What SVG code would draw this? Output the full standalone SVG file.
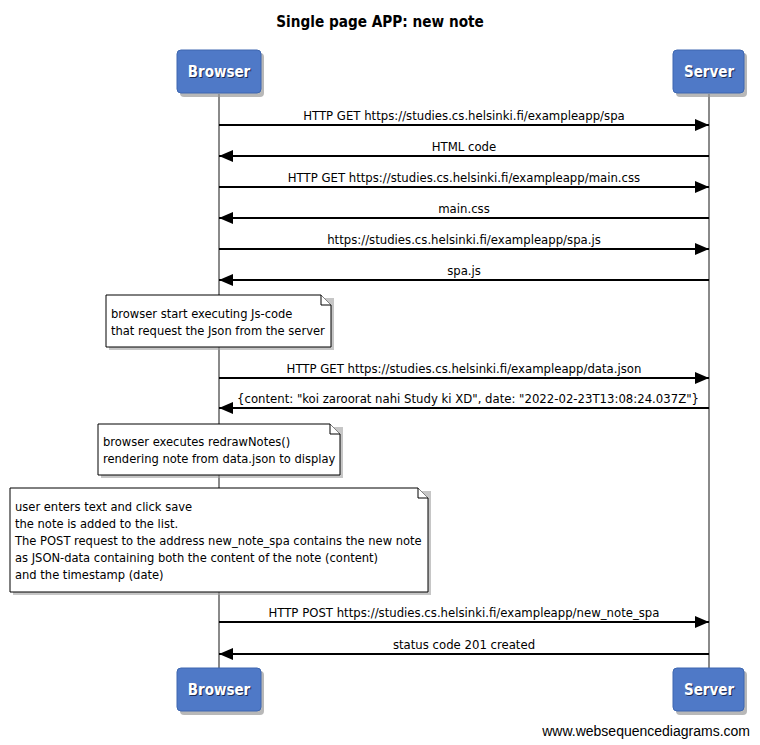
<svg xmlns="http://www.w3.org/2000/svg" width="760" height="745" viewBox="0 0 760 745">
<style>
.lbl{font-family:"DejaVu Sans Condensed","DejaVu Sans",sans-serif;font-stretch:condensed;font-size:13px;fill:#000;text-anchor:middle}
.nt{font-family:"DejaVu Sans Condensed","DejaVu Sans",sans-serif;font-stretch:condensed;font-size:12.8px;fill:#000}
.actor{fill:#4F79C7;stroke:#3E67B0;stroke-width:1}
.ashadow{fill:#9a9a9a;opacity:0.7}
.atext{font-family:"DejaVu Sans Condensed","DejaVu Sans",sans-serif;font-stretch:condensed;font-weight:bold;font-size:15px;fill:#fff;text-anchor:middle}
.atsh{font-family:"DejaVu Sans Condensed","DejaVu Sans",sans-serif;font-stretch:condensed;font-weight:bold;font-size:15px;fill:#1e2d55;text-anchor:middle}
.life{stroke:#8a8a8a;stroke-width:2}
.msg{stroke:#000;stroke-width:2;fill:none}
.note{fill:#fff;stroke:#000;stroke-width:1}
.nshadow{fill:#a0a0a0;opacity:0.6}
</style>
<defs>
<marker id="ah" markerWidth="14" markerHeight="12" refX="14" refY="6" orient="auto" markerUnits="userSpaceOnUse">
<path d="M0,0 L14,6 L0,12 Z" fill="#000"/>
</marker>
</defs>
<rect width="760" height="745" fill="#fff"/>
<text x="380" y="27" font-family="'DejaVu Sans Condensed','DejaVu Sans',sans-serif" font-stretch="condensed" font-weight="bold" font-size="15.2" text-anchor="middle">Single page APP: new note</text>

<g id="lifelines">
<line class="life" x1="219" y1="94" x2="219" y2="668"/>
<line class="life" x1="709" y1="94" x2="709" y2="668"/>
</g>

<g id="browser-top">
<rect class="ashadow" x="180" y="53" width="84" height="44" rx="4"/>
<rect class="actor" x="177" y="50" width="84" height="43" rx="4"/>
<text class="atsh" x="220" y="78">Browser</text>
<text class="atext" x="219" y="77">Browser</text>
</g>
<g id="server-top">
<rect class="ashadow" x="676" y="53" width="71" height="44" rx="4"/>
<rect class="actor" x="673" y="50" width="71" height="43" rx="4"/>
<text class="atsh" x="710" y="78">Server</text>
<text class="atext" x="709" y="77">Server</text>
</g>
<g id="browser-bottom">
<rect class="ashadow" x="180" y="671" width="84" height="44" rx="4"/>
<rect class="actor" x="177" y="668" width="84" height="43" rx="4"/>
<text class="atsh" x="220" y="696">Browser</text>
<text class="atext" x="219" y="695">Browser</text>
</g>
<g id="server-bottom">
<rect class="ashadow" x="676" y="671" width="71" height="44" rx="4"/>
<rect class="actor" x="673" y="668" width="71" height="43" rx="4"/>
<text class="atsh" x="710" y="696">Server</text>
<text class="atext" x="709" y="695">Server</text>
</g>

<g id="connectors">
<line class="msg" x1="219" y1="125" x2="709" y2="125" marker-end="url(#ah)"/>
<text class="lbl" x="464" y="120">HTTP GET https://studies.cs.helsinki.fi/exampleapp/spa</text>
<line class="msg" x1="709" y1="156" x2="219" y2="156" marker-end="url(#ah)"/>
<text class="lbl" x="464" y="151">HTML code</text>
<line class="msg" x1="219" y1="187" x2="709" y2="187" marker-end="url(#ah)"/>
<text class="lbl" x="464" y="182">HTTP GET https://studies.cs.helsinki.fi/exampleapp/main.css</text>
<line class="msg" x1="709" y1="218" x2="219" y2="218" marker-end="url(#ah)"/>
<text class="lbl" x="464" y="213">main.css</text>
<line class="msg" x1="219" y1="249" x2="709" y2="249" marker-end="url(#ah)"/>
<text class="lbl" x="464" y="244">https://studies.cs.helsinki.fi/exampleapp/spa.js</text>
<line class="msg" x1="709" y1="280" x2="219" y2="280" marker-end="url(#ah)"/>
<text class="lbl" x="464" y="275">spa.js</text>
<line class="msg" x1="219" y1="378" x2="709" y2="378" marker-end="url(#ah)"/>
<text class="lbl" x="464" y="373">HTTP GET https://studies.cs.helsinki.fi/exampleapp/data.json</text>
<line class="msg" x1="709" y1="408" x2="219" y2="408" marker-end="url(#ah)"/>
<text class="lbl" x="468" y="403">{content: "koi zaroorat nahi Study ki XD", date: "2022-02-23T13:08:24.037Z"}</text>
<line class="msg" x1="219" y1="622" x2="709" y2="622" marker-end="url(#ah)"/>
<text class="lbl" x="464" y="617">HTTP POST https://studies.cs.helsinki.fi/exampleapp/new_note_spa</text>
<line class="msg" x1="709" y1="654" x2="219" y2="654" marker-end="url(#ah)"/>
<text class="lbl" x="464" y="649">status code 201 created</text>
</g>

<g id="note1">
<path class="nshadow" d="M109,298 H334 V350 H109 Z"/>
<path class="note" d="M106,295 H321 L331,305 V347 H106 Z"/>
<path class="note" d="M321,295 V305 H331"/>
<text class="nt" x="111" y="318">browser start executing Js-code</text>
<text class="nt" x="111" y="335">that request the Json from the server</text>
</g>
<g id="note2">
<path class="nshadow" d="M101,427 H343 V478 H101 Z"/>
<path class="note" d="M98,424 H330 L340,434 V475 H98 Z"/>
<path class="note" d="M330,424 V434 H340"/>
<text class="nt" x="103" y="446">browser executes redrawNotes()</text>
<text class="nt" x="103" y="463">rendering note from data.json to display</text>
</g>
<g id="note3">
<path class="nshadow" d="M13,491 H431 V595 H13 Z"/>
<path class="note" d="M10,488 H418 L428,498 V592 H10 Z"/>
<path class="note" d="M418,488 V498 H428"/>
<text class="nt" x="15" y="511">user enters text and click save</text>
<text class="nt" x="15" y="528">the note is added to the list.</text>
<text class="nt" x="15" y="545">The POST request to the address new_note_spa contains the new note</text>
<text class="nt" x="15" y="562">as JSON-data containing both the content of the note (content)</text>
<text class="nt" x="15" y="579">and the timestamp (date)</text>
</g>

<text x="750" y="736" font-family="'Liberation Sans',Arial,sans-serif" font-size="14" text-anchor="end">www.websequencediagrams.com</text>
</svg>
